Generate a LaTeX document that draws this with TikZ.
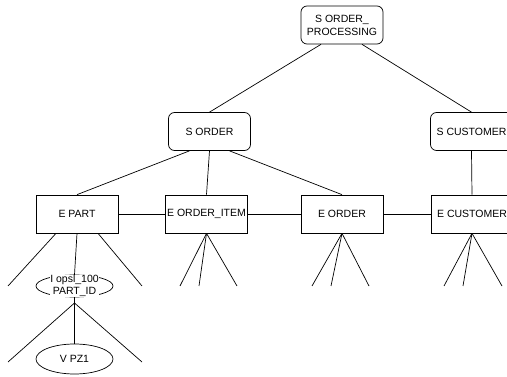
\documentclass[tikz,border=0pt]{standalone}
\usepackage{fontspec}
\setmainfont{Liberation Sans}
\usetikzlibrary{shapes}

\begin{document}
\begin{tikzpicture}[x=1pt,y=-1pt,line width=0.7pt,
  every node/.style={font=\fontsize{10.5}{13}\selectfont,inner sep=0pt},
  sbox/.style={rectangle,rounded corners=6pt,draw,minimum width=82pt,minimum height=38pt,align=center},
  ebox/.style={rectangle,draw,minimum width=82pt,minimum height=38pt},
  attr/.style={ellipse,draw,minimum width=77pt}]
  \useasboundingbox (0,0) rectangle (507,377);
  \node[sbox] (sop) at (342,25) {S ORDER\_\\PROCESSING};
  \node[sbox] (sorder) at (209.5,131.5) {S ORDER};
  \node[sbox] (scust) at (471.5,131.5) {S CUSTOMER};
  \node[ebox] (epart) at (77,214) {E PART};
  \node[ebox] (eitem) at (206.5,214) {E ORDER\_ITEM};
  \node[ebox] (eorder) at (342,214) {E ORDER};
  \node[ebox] (ecust) at (472,214) {E CUSTOMER};
  \node[attr,minimum height=22pt] (pid) at (74.5,286) {};
  \node[fill=white,align=center,font=\fontsize{10.5}{12}\selectfont] (pidtext) at (pid) {I opsl\_100\\PART\_ID};
  \node[attr,minimum height=30pt] (vpz) at (74.5,359) {V PZ1};

  \draw ([xshift=-21pt]sop.south) -- (sorder.north);
  \draw ([xshift=20pt]sop.south) -- (scust.north);
  \draw ([xshift=-20pt]sorder.south) -- (epart.north);
  \draw (sorder.south) -- (eitem.north);
  \draw ([xshift=20pt]sorder.south) -- (eorder.north);
  \draw (scust.south) -- (ecust.north);
  \draw (epart) -- (eitem);
  \draw (eitem) -- (eorder);
  \draw (eorder) -- (ecust);

  \coordinate (pa) at (8,286);
  \coordinate (pb) at (142,286);
  \draw ([xshift=-21pt]epart.south) -- (pa);
  \draw (epart.south) -- (pidtext.north);
  \draw ([xshift=21pt]epart.south) -- (pb);

  \coordinate (pj) at (74.5,303);
  \coordinate (va) at (8,362);
  \coordinate (vb) at (142,362);
  \draw (pid.south) -- (pj);
  \draw (pj) -- (va);
  \draw (pj) -- (vpz.north);
  \draw (pj) -- (vb);

  \foreach \b/\xa/\xb/\xc in {eitem/180/199/237,eorder/312/331/369,ecust/444/463/502} {
    \coordinate (\b a) at (\xa,286);
    \coordinate (\b b) at (\xb,286);
    \coordinate (\b c) at (\xc,286);
    \draw (\b.south) -- (\b a);
    \draw (\b.south) -- (\b b);
    \draw (\b.south) -- (\b c);
  }
\end{tikzpicture}
\end{document}
